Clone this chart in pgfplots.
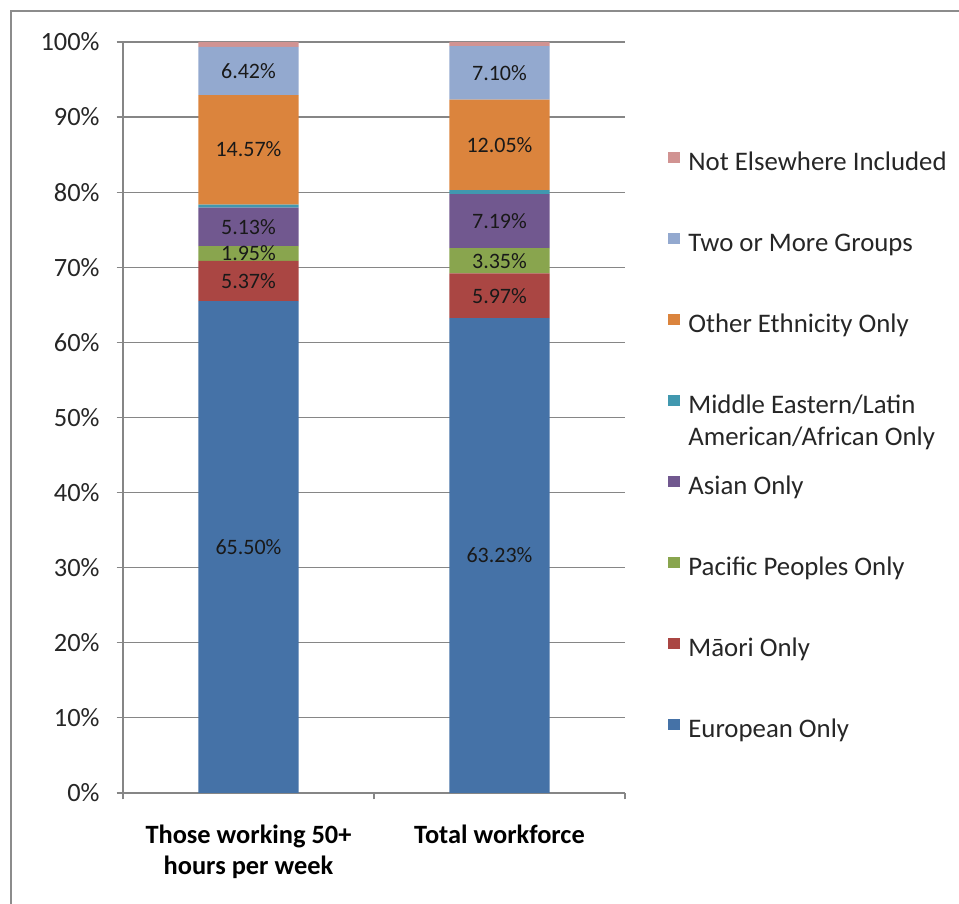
\documentclass[border=0pt]{standalone}
\usepackage{pgfplots}
\pgfplotsset{compat=1.18}
\usepackage{fontspec}
\setmainfont{Carlito}
\definecolor{cEur}{HTML}{4572A7}
\definecolor{cMao}{HTML}{AA4643}
\definecolor{cPac}{HTML}{89A54E}
\definecolor{cAsi}{HTML}{71588F}
\definecolor{cMel}{HTML}{4198AF}
\definecolor{cOth}{HTML}{DB843D}
\definecolor{cTwo}{HTML}{93A9CF}
\definecolor{cNei}{HTML}{D19392}
\definecolor{axgray}{HTML}{868686}
\definecolor{framegray}{HTML}{8C8C8C}
\pgfplotstableread{
x    eur   mao  pac  asi  mel  oth   two  nei
0.5  65.50 5.37 1.95 5.13 0.40 14.57 6.42 0.66
1.5  63.23 5.97 3.35 7.19 0.55 12.05 7.10 0.56
}\datatable
\pgfplotstableread{
x    y      lab
0.5  32.75  65.50
0.5  68.185 5.37
0.5  71.845 1.95
0.5  75.385 5.13
0.5  85.685 14.57
0.5  96.18  6.42
1.5  31.615 63.23
1.5  66.215 5.97
1.5  70.875 3.35
1.5  76.145 7.19
1.5  86.315 12.05
1.5  95.89  7.10
}\labtable
\begin{document}
\fontsize{13}{16}\selectfont
\begin{tikzpicture}[x=1pt,y=1pt]
\useasboundingbox (0,0) rectangle (479.5,452);
\draw[color=framegray, line width=1.2pt] (5.5,-20) -- (5.5,446.5) -- (500,446.5);
\begin{axis}[
  at={(61.5pt,55.5pt)}, anchor=south west,
  scale only axis, width=251pt, height=375.5pt,
  xmin=0, xmax=2, ymin=0, ymax=100,
  ybar stacked, bar width=0.4,
  axis lines=left, axis line style={-, draw=axgray, line width=0.6pt},
  tick align=outside, major tick length=3.2pt,
  tick style={draw=axgray, line width=0.6pt},
  ymajorgrids, grid style={draw=axgray, line width=0.6pt},
  ytick={0,10,...,100},
  yticklabels={0\%,10\%,20\%,30\%,40\%,50\%,60\%,70\%,80\%,90\%,100\%},
  yticklabel style={font=\fontsize{13.2}{16}\selectfont, text=black!85, xshift=-4pt},
  xtick={0,1,2}, xticklabels={,,},
  extra x ticks={0.5,1.5},
  extra x tick labels={{Those working 50+\\hours per week},{Total workforce}},
  extra x tick style={major tick length=0pt, grid=none,
    tick label style={font=\bfseries\fontsize{13.2}{15.5}\selectfont, align=center, anchor=north, yshift=-11.5pt}},
  reverse legend,
  legend cell align=left,
  legend style={at={(1.0857,0.856)}, anchor=north west, draw=none, fill=none,
    inner sep=0pt, row sep=27.5pt, column sep=4.3pt,
    font=\fontsize{13.4}{16}\selectfont,
    nodes={inner sep=0pt, text height=10pt, text depth=3pt, text=black!85}},
  legend image code/.code={\fill[#1] (0pt,0.2pt) rectangle (5.7pt,5.9pt);},
]
\addplot[fill=cEur, draw=none] table[x=x, y=eur] {\datatable};
\addlegendentry{European Only}
\addplot[fill=cMao, draw=none] table[x=x, y=mao] {\datatable};
\addlegendentry{Māori Only}
\addplot[fill=cPac, draw=none] table[x=x, y=pac] {\datatable};
\addlegendentry{Pacific Peoples Only}
\addplot[fill=cAsi, draw=none] table[x=x, y=asi] {\datatable};
\addlegendentry{Asian Only}
\addplot[fill=cMel, draw=none] table[x=x, y=mel] {\datatable};
\addlegendentry{\begin{tabular}[t]{@{}l@{}}Middle Eastern/Latin\\American/African Only\end{tabular}}
\addplot[fill=cOth, draw=none] table[x=x, y=oth] {\datatable};
\addlegendentry{Other Ethnicity Only}
\addplot[fill=cTwo, draw=none] table[x=x, y=two] {\datatable};
\addlegendentry{Two or More Groups}
\addplot[fill=cNei, draw=none] table[x=x, y=nei] {\datatable};
\addlegendentry{Not Elsewhere Included}
\end{axis}
\begin{axis}[
  at={(61.5pt,55.5pt)}, anchor=south west,
  scale only axis, width=251pt, height=375.5pt,
  xmin=0, xmax=2, ymin=0, ymax=100, hide axis,
]
\addplot[draw=none, nodes near coords={\pgfplotspointmeta\%},
  point meta=explicit symbolic,
  nodes near coords style={anchor=center, inner sep=0pt, font=\fontsize{11}{13}\selectfont, text=black!90}]
  table[x=x, y=y, meta=lab] {\labtable};
\end{axis}
\end{tikzpicture}
\end{document}
